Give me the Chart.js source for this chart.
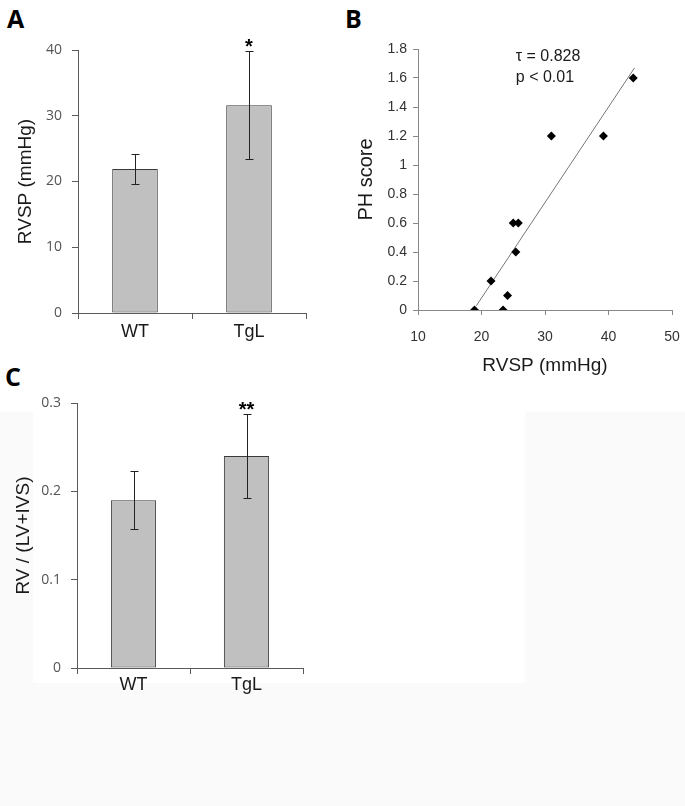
<!DOCTYPE html>
<html>
<head>
<meta charset="utf-8">
<script src="https://cdn.jsdelivr.net/npm/chart.js@4.4.0/dist/chart.umd.min.js"></script>
<style>
    body { margin: 0; background: #fff; }
    .page { position: relative; width: 685px; height: 806px; overflow: hidden; }
    .lower { position: absolute; left: 0; top: 412px; width: 685px; height: 394px; background: #fafafa; }
    .lower-white { position: absolute; left: 33px; top: 412px; width: 492px; height: 271px; background: #fff; }
    .panel { position: absolute; }
    .letter { position: absolute; font: bold 25px "Open Sans"; line-height: 25px; color: #000; }
</style>
</head>
<body>
<div class="page">
    <div class="lower"></div>
    <div class="lower-white"></div>
    <div class="letter" style="left:7px; top:6px;">A</div>
    <div class="letter" style="left:345px; top:6px;">B</div>
    <div class="letter" style="left:5px; top:364px;">C</div>
    <canvas id="chart-a" class="panel" width="330" height="350" style="left:0; top:0;"></canvas>
    <canvas id="chart-b" class="panel" width="345" height="390" style="left:340px; top:0;"></canvas>
    <canvas id="chart-c" class="panel" width="330" height="330" style="left:0; top:370px;"></canvas>
</div>
<script>
// Panel A: RVSP
const groups = ['WT', 'TgL'];
const rvspMean = [21.9, 31.6];
const rvspErr = [2.3, 8.2];
const rvspMarks = ['', '*'];
const rvspTicks = [0, 10, 20, 30, 40];

// Panel B: PH score vs RVSP
const scatterRvsp = [18.9, 23.4, 21.5, 24.1, 25.4, 25.0, 25.8, 31.0, 39.2, 43.9];
const scatterPh = [0, 0, 0.2, 0.1, 0.4, 0.6, 0.6, 1.2, 1.2, 1.6];
const fitX = [19.2, 44.1];
const fitY = [0.03, 1.67];
const scatterXTicks = [10, 20, 30, 40, 50];
const scatterYTicks = [0, 0.2, 0.4, 0.6, 0.8, 1, 1.2, 1.4, 1.6, 1.8];
const statLines = ['\u03c4 = 0.828', 'p < 0.01'];

// Panel C: RV / (LV+IVS)
const ratioMean = [0.190, 0.240];
const ratioErr = [0.033, 0.048];
const ratioMarks = ['', '**'];
const ratioTicks = [0, 0.1, 0.2, 0.3];

Chart.defaults.animation = false;
Chart.defaults.devicePixelRatio = 1;
Chart.defaults.plugins.legend.display = false;
Chart.defaults.plugins.tooltip.enabled = false;

const axisColor = '#5a5a5a';
const sansFont = 'Liberation Sans';

// Error bars and significance marks on top of bars
const errorBars = {
    id: 'errorBars',
    afterDatasetsDraw(chart, args, opts) {
        const ctx = chart.ctx;
        const yScale = chart.scales.y;
        const meta = chart.getDatasetMeta(0);
        ctx.save();
        ctx.strokeStyle = '#222';
        ctx.lineWidth = 1;
        meta.data.forEach((bar, i) => {
            const v = opts.values[i];
            const e = opts.errors[i];
            const x = Math.round(bar.x) + 0.5;
            const top = Math.round(yScale.getPixelForValue(v + e)) + 0.5;
            const bottom = Math.round(yScale.getPixelForValue(v - e)) + 0.5;
            ctx.beginPath();
            ctx.moveTo(x, top);
            ctx.lineTo(x, bottom);
            ctx.moveTo(x - 4, top);
            ctx.lineTo(x + 4, top);
            ctx.moveTo(x - 4, bottom);
            ctx.lineTo(x + 4, bottom);
            ctx.stroke();
            if (opts.marks[i]) {
                ctx.fillStyle = '#000';
                ctx.font = 'bold 20px ' + sansFont;
                ctx.textAlign = 'center';
                ctx.textBaseline = 'alphabetic';
                ctx.fillText(opts.marks[i], bar.x, top + 1);
            }
        });
        ctx.restore();
    }
};

function barChart(id, values, errors, marks, ticks, title, sizes) {
    new Chart(document.getElementById(id), {
        type: 'bar',
        data: {
            labels: groups,
            datasets: [{
                data: values,
                backgroundColor: '#c0c0c0',
                borderColor: '#3a3a3a',
                borderWidth: 1,
                borderSkipped: false,
                barPercentage: 0.4,
                categoryPercentage: 1
            }]
        },
        options: {
            responsive: false,
            layout: { padding: { top: sizes.top, right: sizes.right, left: 0, bottom: 0 } },
            scales: {
                x: {
                    afterFit: s => { s.height = sizes.xHeight; },
                    grid: { offset: true, drawOnChartArea: false, tickLength: 6, color: axisColor },
                    border: { color: axisColor },
                    ticks: { color: '#1a1a1a', padding: sizes.xPad, font: { family: sansFont, size: 18 } }
                },
                y: {
                    min: ticks[0],
                    max: ticks[ticks.length - 1],
                    afterFit: s => { s.width = sizes.yWidth; },
                    afterBuildTicks: s => { s.ticks = ticks.map(v => ({ value: v })); },
                    grid: { drawOnChartArea: false, tickLength: 6, color: axisColor },
                    border: { color: axisColor },
                    ticks: {
                        color: '#555',
                        padding: 10,
                        font: { family: 'Open Sans', size: 14 },
                        callback: v => String(v)
                    },
                    title: {
                        display: true,
                        text: title,
                        color: '#1a1a1a',
                        font: { family: sansFont, size: 19 },
                        padding: { top: sizes.titlePad }
                    }
                }
            },
            plugins: {
                errorBars: { values: values, errors: errors, marks: marks }
            }
        },
        plugins: [errorBars]
    });
}

barChart('chart-a', rvspMean, rvspErr, rvspMarks, rvspTicks, 'RVSP (mmHg)',
    { top: 50, right: 24, xHeight: 37, yWidth: 78, xPad: 2, titlePad: 14 });

barChart('chart-c', ratioMean, ratioErr, ratioMarks, ratioTicks, 'RV / (LV+IVS)',
    { top: 33, right: 27, xHeight: 32, yWidth: 77, xPad: 0, titlePad: 12 });

// Correlation text in panel B
const statText = {
    id: 'statText',
    afterDraw(chart) {
        const ctx = chart.ctx;
        const x = chart.scales.x.getPixelForValue(25.4);
        const y = chart.scales.y.getPixelForValue(1.745);
        ctx.save();
        ctx.fillStyle = '#1a1a1a';
        ctx.font = '16px ' + sansFont;
        ctx.textAlign = 'left';
        ctx.textBaseline = 'middle';
        statLines.forEach((line, i) => ctx.fillText(line, x, y + i * 21));
        ctx.restore();
    }
};

new Chart(document.getElementById('chart-b'), {
    type: 'scatter',
    data: {
        datasets: [{
            data: scatterRvsp.map((x, i) => ({ x: x, y: scatterPh[i] })),
            pointStyle: 'rectRot',
            pointRadius: 4.5,
            backgroundColor: '#000',
            borderWidth: 0,
            order: 1
        }, {
            type: 'line',
            data: fitX.map((x, i) => ({ x: x, y: fitY[i] })),
            borderColor: '#777',
            borderWidth: 1,
            pointRadius: 0,
            order: 2
        }]
    },
    options: {
        responsive: false,
        layout: { padding: { top: 49, right: 13, left: 0, bottom: 0 } },
        scales: {
            x: {
                type: 'linear',
                min: scatterXTicks[0],
                max: scatterXTicks[scatterXTicks.length - 1],
                afterFit: s => { s.height = 80; s.paddingLeft = 0; s.paddingRight = 0; },
                afterBuildTicks: s => { s.ticks = scatterXTicks.map(v => ({ value: v })); },
                grid: { drawOnChartArea: false, tickLength: 5, color: '#888' },
                border: { color: '#888' },
                ticks: { color: '#333', padding: 14, font: { family: sansFont, size: 14 } },
                title: {
                    display: true,
                    text: 'RVSP (mmHg)',
                    color: '#1a1a1a',
                    font: { family: sansFont, size: 19 },
                    padding: { bottom: 13 }
                }
            },
            y: {
                min: scatterYTicks[0],
                max: scatterYTicks[scatterYTicks.length - 1],
                afterFit: s => { s.width = 78; },
                afterBuildTicks: s => { s.ticks = scatterYTicks.map(v => ({ value: v })); },
                grid: { drawOnChartArea: false, tickLength: 5, color: '#888' },
                border: { color: '#888' },
                ticks: {
                    color: '#333',
                    padding: 6,
                    font: { family: sansFont, size: 14 },
                    callback: v => String(v)
                },
                title: {
                    display: true,
                    text: 'PH score',
                    color: '#1a1a1a',
                    font: { family: sansFont, size: 20 },
                    padding: { top: 14 }
                }
            }
        }
    },
    plugins: [statText]
});
</script>
</body>
</html>
